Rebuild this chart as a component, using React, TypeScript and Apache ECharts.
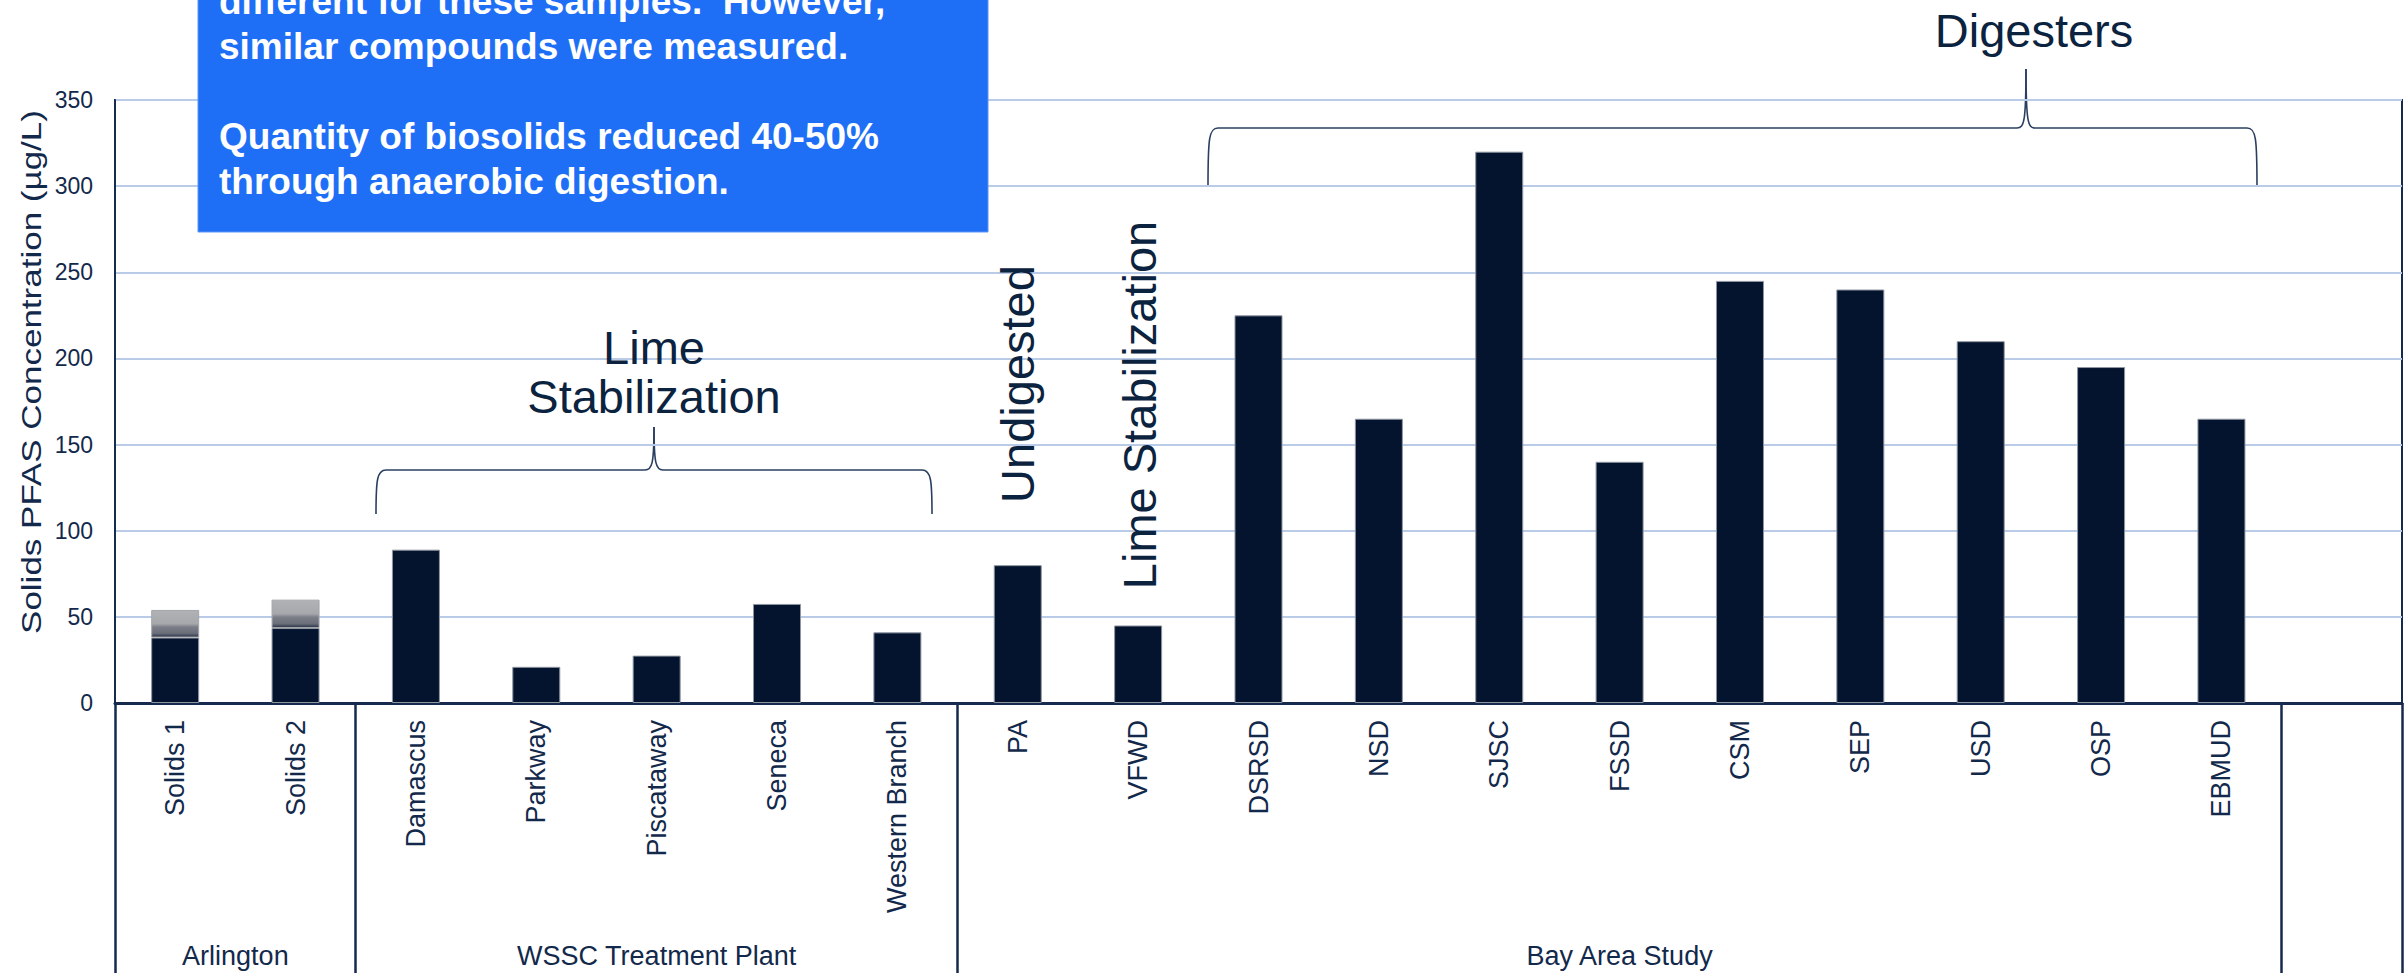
import React, { useEffect, useRef } from "react";
import * as echarts from "echarts";

// ---- data ----
const categories: string[] = [
  "Solids 1", "Solids 2",
  "Damascus", "Parkway", "Piscataway", "Seneca", "Western Branch",
  "PA", "VFWD", "DSRSD", "NSD", "SJSC", "FSSD", "CSM", "SEP", "USD", "OSP", "EBMUD",
  "",
];
// solid (dark) portion of each bar, µg/L
const solidValues: (number | null)[] = [
  38, 43.5,
  89, 21, 27.5, 57.5, 41,
  80, 45, 225, 165, 320, 140, 245, 240, 210, 195, 165,
  null,
];
// faded upper portion (Arlington samples only), µg/L
const fadedValues: (number | null)[] = [
  16, 16.5,
  null, null, null, null, null,
  null, null, null, null, null, null, null, null, null, null, null,
  null,
];
const groupNames: string[] = ["Arlington", "WSSC Treatment Plant", "Bay Area Study"];
const groupStart: number[] = [0, 2, 7];
const groupEnd: number[] = [2, 7, 18];
const yMin = 0;
const yMax = 350;
const yStep = 50;

const boxLines: string[] = [
  "different for these samples.  However,",
  "similar compounds were measured.",
  "",
  "Quantity of biosolids reduced 40-50%",
  "through anaerobic digestion.",
];

// ---- styles ----
const FONT = "'Liberation Sans', Arial, Helvetica, sans-serif";
const NAVY = "#04132e";
const FRAME = "#152a4d";
const LABEL = "#13294b";
const ANNOT = "#0c2340";
const GRID = "#b9cbe7";

function brace(xl: number, xr: number, xt: number, yEnd: number, yH: number, yTip: number) {
  const r = 10;
  const tr = 9;
  const style = { stroke: "#2a3f60", lineWidth: 1.6, fill: null as any };
  return {
    type: "group",
    children: [
      { type: "bezierCurve", shape: { x1: xl, y1: yEnd, cpx1: xl, cpy1: yH + 10, cpx2: xl + 1, cpy2: yH, x2: xl + r, y2: yH }, style },
      { type: "line", shape: { x1: xl + r, y1: yH, x2: xt - tr, y2: yH }, style },
      { type: "bezierCurve", shape: { x1: xt - tr, y1: yH, cpx1: xt - 2, cpy1: yH, cpx2: xt, cpy2: yH - 6, x2: xt, y2: yTip }, style },
      { type: "bezierCurve", shape: { x1: xt + tr, y1: yH, cpx1: xt + 2, cpy1: yH, cpx2: xt, cpy2: yH - 6, x2: xt, y2: yTip }, style },
      { type: "line", shape: { x1: xt + tr, y1: yH, x2: xr - r, y2: yH }, style },
      { type: "bezierCurve", shape: { x1: xr, y1: yEnd, cpx1: xr, cpy1: yH + 10, cpx2: xr - 1, cpy2: yH, x2: xr - r, y2: yH }, style },
    ],
  };
}

function annotText(text: string, x: number, y: number, size: number, rotation = 0) {
  return {
    type: "text",
    x,
    y,
    rotation,
    z: 50,
    style: {
      text,
      fontSize: size,
      fontFamily: FONT,
      fill: ANNOT,
      align: "center",
      verticalAlign: "middle",
    },
  };
}

export default function App() {
  const ref = useRef<HTMLDivElement>(null);

  useEffect(() => {
    document.body.style.margin = "0";
    if (!ref.current) return;
    const chart = echarts.init(ref.current, undefined, { renderer: "svg" });

    const boundaries = [...groupStart, groupEnd[groupEnd.length - 1]];
    const centers = groupStart.map((s, i) => (s + groupEnd[i]) / 2);

    const fadedGradient = new echarts.graphic.LinearGradient(0, 0, 0, 1, [
      { offset: 0, color: "#b1b2b5" },
      { offset: 0.5, color: "#a7a8ac" },
      { offset: 0.62, color: "#7c7f88" },
      { offset: 0.86, color: "#6a6e79" },
      { offset: 1, color: "#283147" },
    ]);

    const boxFont = 37;
    const boxLineH = 45;
    const boxFirstBaseline = 14;

    const graphic: any[] = [
      {
        type: "rect",
        z: 40,
        shape: { x: 198, y: -80, width: 790, height: 312 },
        style: { fill: "#1f6ff6", stroke: "#5d95f3", lineWidth: 1 },
      },
      ...boxLines
        .map((t, i) => ({
          type: "text",
          z: 41,
          x: 219,
          y: boxFirstBaseline + i * boxLineH - 0.3465 * boxFont,
          style: {
            text: t,
            fontSize: boxFont,
            fontWeight: "bold",
            fontFamily: FONT,
            fill: "#ffffff",
            align: "left",
            verticalAlign: "middle",
          },
        }))
        .filter((g) => g.style.text !== ""),
      // y axis title (slightly stretched along its length as in the reference)
      {
        type: "text",
        x: 31,
        y: 372,
        rotation: Math.PI / 2,
        scaleX: 1.25,
        z: 50,
        style: {
          text: "Solids PFAS Concentration (µg/L)",
          fontSize: 28,
          fontFamily: FONT,
          fill: LABEL,
          align: "center",
          verticalAlign: "middle",
        },
      },
      annotText("Digesters", 2034, 30.7, 47),
      annotText("Lime", 654, 347, 47),
      annotText("Stabilization", 654, 396, 47),
      annotText("Undigested", 1017, 384, 47, Math.PI / 2),
      annotText("Lime Stabilization", 1139, 405, 47, Math.PI / 2),
      brace(376, 932, 654, 514, 470, 427),
      brace(1208, 2257, 2026, 187, 128, 69),
    ];

    const option: any = {
      animation: false,
      backgroundColor: "#ffffff",
      textStyle: { fontFamily: FONT },
      grid: {
        left: 115,
        right: 5,
        top: 100,
        bottom: 270,
        show: true,
        borderColor: FRAME,
        borderWidth: 2,
        backgroundColor: "transparent",
      },
      xAxis: [
        {
          type: "category",
          data: categories,
          position: "bottom",
          axisLine: { show: true, lineStyle: { color: FRAME, width: 3 } },
          axisTick: {
            show: true,
            alignWithLabel: false,
            interval: (i: number) => boundaries.includes(i),
            length: 290,
            lineStyle: { color: FRAME, width: 2.5 },
          },
          axisLabel: {
            interval: 0,
            rotate: 90,
            margin: 17,
            fontSize: 27,
            color: LABEL,
            fontFamily: FONT,
          },
          splitLine: { show: false },
        },
        {
          type: "value",
          min: 0,
          max: categories.length,
          interval: 0.5,
          position: "bottom",
          axisLine: { show: false },
          axisTick: { show: false },
          splitLine: { show: false },
          axisLabel: {
            margin: 239,
            fontSize: 27,
            color: LABEL,
            fontFamily: FONT,
            showMinLabel: true,
            showMaxLabel: true,
            formatter: (v: number) => {
              const idx = centers.findIndex((c) => Math.abs(c - v) < 1e-6);
              return idx >= 0 ? groupNames[idx] : "";
            },
          },
        },
      ],
      yAxis: {
        type: "value",
        min: yMin,
        max: yMax,
        interval: yStep,
        axisLine: { show: true, lineStyle: { color: FRAME, width: 2 } },
        axisTick: { show: false },
        axisLabel: { fontSize: 23, margin: 22, color: LABEL, fontFamily: FONT },
        splitLine: { show: true, lineStyle: { color: GRID, width: 2 } },
      },
      series: [
        {
          type: "bar",
          name: "Solids PFAS",
          data: solidValues,
          stack: "total",
          barWidth: 48,
          itemStyle: { color: NAVY, borderColor: "#8f96a0", borderWidth: 1 },
        },
        {
          type: "bar",
          name: "Solids PFAS (upper range)",
          data: fadedValues,
          stack: "total",
          barWidth: 48,
          itemStyle: { color: fadedGradient, borderColor: "#a3a6ab", borderWidth: 1 },
        },
      ],
      graphic,
    };

    chart.setOption(option);
    return () => {
      chart.dispose();
    };
  }, []);

  return (
    <div
      ref={ref}
      style={{ position: "absolute", left: 0, top: 0, width: 2407, height: 973, background: "#fff" }}
    />
  );
}
